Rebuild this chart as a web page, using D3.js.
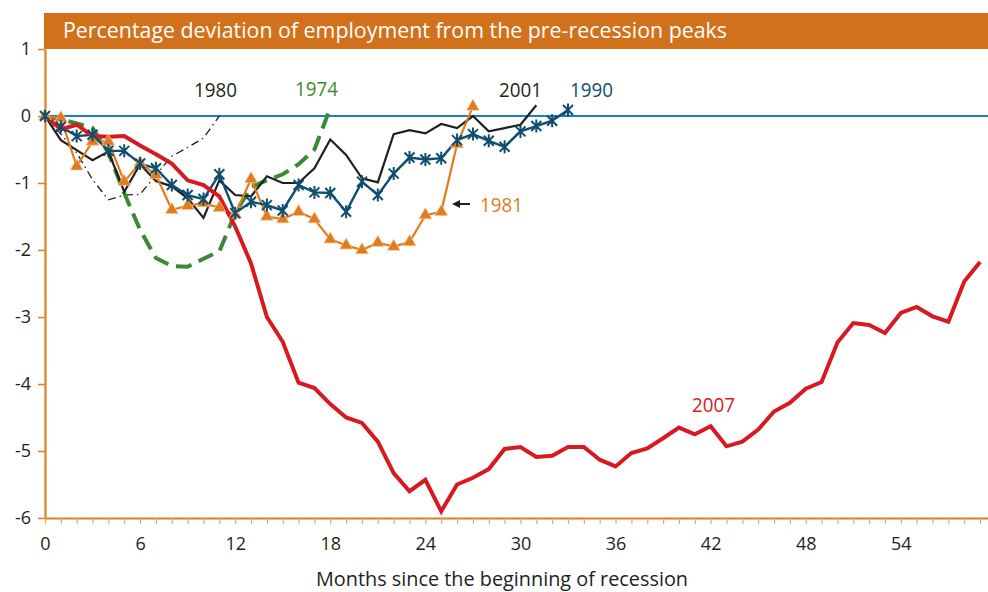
<!DOCTYPE html>
<html>
<head>
<meta charset="utf-8">
<script src="https://cdn.jsdelivr.net/npm/d3@7"></script>
<style>
  html, body { margin: 0; padding: 0; background: #fff; }
  svg { display: block; font-family: "Open Sans", "Noto Sans", sans-serif; }
</style>
</head>
<body>
<svg id="chart" width="988" height="592"></svg>
<script>
// ---- Data (index = months since the beginning of recession) ----
const titleText = "Percentage deviation of employment from the pre-recession peaks";
const xTitle = "Months since the beginning of recession";
const xTickLabels = [0, 6, 12, 18, 24, 30, 36, 42, 48, 54];
const yTicks = [1, 0, -1, -2, -3, -4, -5, -6];

const s2007 = [0,-0.2,-0.13,-0.3,-0.31,-0.3,-0.44,-0.57,-0.71,-0.96,-1.03,-1.2,-1.65,-2.2,-3.0,-3.37,-3.98,-4.06,-4.3,-4.5,-4.58,-4.86,-5.33,-5.6,-5.43,-5.9,-5.5,-5.4,-5.27,-4.97,-4.94,-5.09,-5.07,-4.94,-4.94,-5.13,-5.23,-5.03,-4.96,-4.81,-4.65,-4.75,-4.63,-4.93,-4.86,-4.68,-4.41,-4.28,-4.07,-3.97,-3.38,-3.09,-3.12,-3.24,-2.94,-2.85,-2.99,-3.07,-2.47,-2.18];
const s2001 = [0,-0.36,-0.51,-0.66,-0.53,-1.13,-0.72,-0.97,-1.05,-1.23,-1.52,-0.96,-1.18,-1.2,-0.9,-1.0,-1.0,-0.78,-0.35,-0.58,-0.93,-0.99,-0.27,-0.21,-0.26,-0.12,-0.18,0.0,-0.23,-0.18,-0.13,0.16];
const s1990 = [0,-0.16,-0.3,-0.28,-0.52,-0.52,-0.71,-0.78,-1.03,-1.18,-1.24,-0.87,-1.45,-1.28,-1.33,-1.41,-1.03,-1.14,-1.15,-1.43,-0.98,-1.18,-0.86,-0.62,-0.65,-0.63,-0.36,-0.27,-0.37,-0.46,-0.23,-0.15,-0.07,0.09];
const s1981 = [0,-0.03,-0.75,-0.38,-0.38,-0.98,-0.7,-0.88,-1.4,-1.34,-1.3,-1.37,-1.47,-0.94,-1.5,-1.54,-1.43,-1.54,-1.84,-1.93,-2.0,-1.89,-1.95,-1.88,-1.48,-1.43,-0.42,0.14];
const s1974 = [0,-0.05,-0.11,-0.18,-0.55,-1.15,-1.7,-2.12,-2.24,-2.25,-2.13,-2.02,-1.45,-1.06,-0.96,-0.87,-0.72,-0.5,0.12];
const s1980 = [0,-0.27,-0.55,-0.95,-1.25,-1.18,-1.17,-0.88,-0.6,-0.47,-0.33,0.0];
const monthTicks = [0,1,2,3,4,5,6,7,8,9,10,11,12,13,14,15,16,17,18,19,20,21,22,23,24,25,26,27,28,29,30,31,32,33,34,35,36,37,38,39,40,41,42,43,44,45,46,47,48,49,50,51,52,53,54,55,56,57,58,59];

// ---- Styles ----
const ORANGE = "#D2711C";
const AXIS = "#E07F22";
const C2007 = "#D71A22", C2001 = "#231F20", C1990 = "#0E4F70", C1981 = "#E07B1E", C1974 = "#3A8A34", C1980 = "#231F20";
const TXT = "#231F20";

const svg = d3.select("#chart");
const x = d3.scaleLinear().domain([0, 59.5]).range([45, 988]);
const y = d3.scaleLinear().domain([-6, 1]).range([518, 49]);

// Title banner
svg.append("rect").attr("x", 44).attr("y", 13).attr("width", 944).attr("height", 36).attr("fill", ORANGE);
svg.append("text").attr("x", 63).attr("y", 38).attr("fill", "#fff")
  .attr("font-size", 21).attr("textLength", 664).attr("lengthAdjust", "spacingAndGlyphs")
  .text(titleText);

// Zero line
svg.append("line").attr("x1", x(0)).attr("x2", 988).attr("y1", y(0)).attr("y2", y(0))
  .attr("stroke", "#1F7DC1").attr("stroke-width", 2.2);

// Axes
const yAxis = svg.append("g").attr("transform", `translate(${x(0)},0)`)
  .call(d3.axisLeft(y).tickValues(yTicks).tickSize(7).tickSizeOuter(0).tickPadding(7)
    .tickFormat(d => d < 0 ? "-" + Math.abs(d) : String(d)));
yAxis.select(".domain").attr("stroke", AXIS).attr("stroke-width", 2.2);
yAxis.selectAll(".tick line").attr("stroke", AXIS).attr("stroke-width", 1.5);
yAxis.selectAll(".tick text").attr("fill", TXT).attr("font-size", 18).attr("font-family", "'Open Sans', sans-serif");

const xAxis = svg.append("g").attr("transform", `translate(0,${y(-6)})`)
  .call(d3.axisBottom(x).tickValues(monthTicks).tickSize(6).tickSizeOuter(0).tickPadding(13)
    .tickFormat(d => xTickLabels.includes(d) ? String(d) : ""));
xAxis.select(".domain").attr("stroke", AXIS).attr("stroke-width", 2.2);
xAxis.selectAll(".tick line").attr("stroke", "#EBA666").attr("stroke-width", 1.2);
xAxis.selectAll(".tick text").attr("fill", TXT).attr("font-size", 18).attr("font-family", "'Open Sans', sans-serif");

svg.append("text").attr("x", 502).attr("y", 586).attr("text-anchor", "middle").attr("fill", TXT)
  .attr("font-size", 20).attr("textLength", 372).attr("lengthAdjust", "spacingAndGlyphs").text(xTitle);

// Series
const line = d3.line().x((d, i) => x(i)).y(d => y(d));
const plot = svg.append("g").attr("fill", "none").attr("stroke-linejoin", "miter");

plot.append("path").datum(s1980).attr("d", line).attr("stroke", C1980).attr("stroke-width", 1.3)
  .attr("stroke-dasharray", "8,4,1.5,4");
plot.append("path").datum(s1974).attr("d", line).attr("stroke", C1974).attr("stroke-width", 4)
  .attr("stroke-dasharray", "16,8");
plot.append("path").datum(s2001).attr("d", line).attr("stroke", C2001).attr("stroke-width", 2.2);

plot.append("path").datum(s1981).attr("d", line).attr("stroke", C1981).attr("stroke-width", 2.2);
svg.append("g").selectAll("path").data(s1981).join("path")
  .attr("transform", (d, i) => `translate(${x(i)},${y(d)})`)
  .attr("d", d3.symbol(d3.symbolTriangle, 70))
  .attr("fill", C1981).attr("stroke", "#F6C591").attr("stroke-width", 0.7);

plot.append("path").datum(s1990).attr("d", line).attr("stroke", C1990).attr("stroke-width", 2.4);
svg.append("g").selectAll("path").data(s1990).join("path")
  .attr("transform", (d, i) => `translate(${x(i)},${y(d)})`)
  .attr("d", "M-5,-5L5,5M-5,5L5,-5M0,-6.5L0,6.5")
  .attr("fill", "none").attr("stroke", C1990).attr("stroke-width", 2);

plot.append("path").datum(s2007).attr("d", line).attr("stroke", C2007).attr("stroke-width", 4);

// Series labels
const labels = [
  {t: "1980", x: 194, y: 97, c: C1980},
  {t: "1974", x: 295, y: 96, c: C1974},
  {t: "2001", x: 499, y: 97, c: C2001},
  {t: "1990", x: 570, y: 97, c: C1990},
  {t: "1981", x: 480, y: 212, c: C1981},
  {t: "2007", x: 692, y: 412, c: C2007}
];
svg.append("g").selectAll("text").data(labels).join("text")
  .attr("x", d => d.x).attr("y", d => d.y).attr("fill", d => d.c)
  .attr("font-size", 20).attr("textLength", 43).attr("lengthAdjust", "spacingAndGlyphs")
  .text(d => d.t);

// Arrow for 1981
svg.append("line").attr("x1", 458).attr("x2", 470).attr("y1", 204).attr("y2", 204)
  .attr("stroke", "#231F20").attr("stroke-width", 2);
svg.append("path").attr("d", "M452,204L460,200L460,208Z").attr("fill", "#231F20");
</script>
</body>
</html>
